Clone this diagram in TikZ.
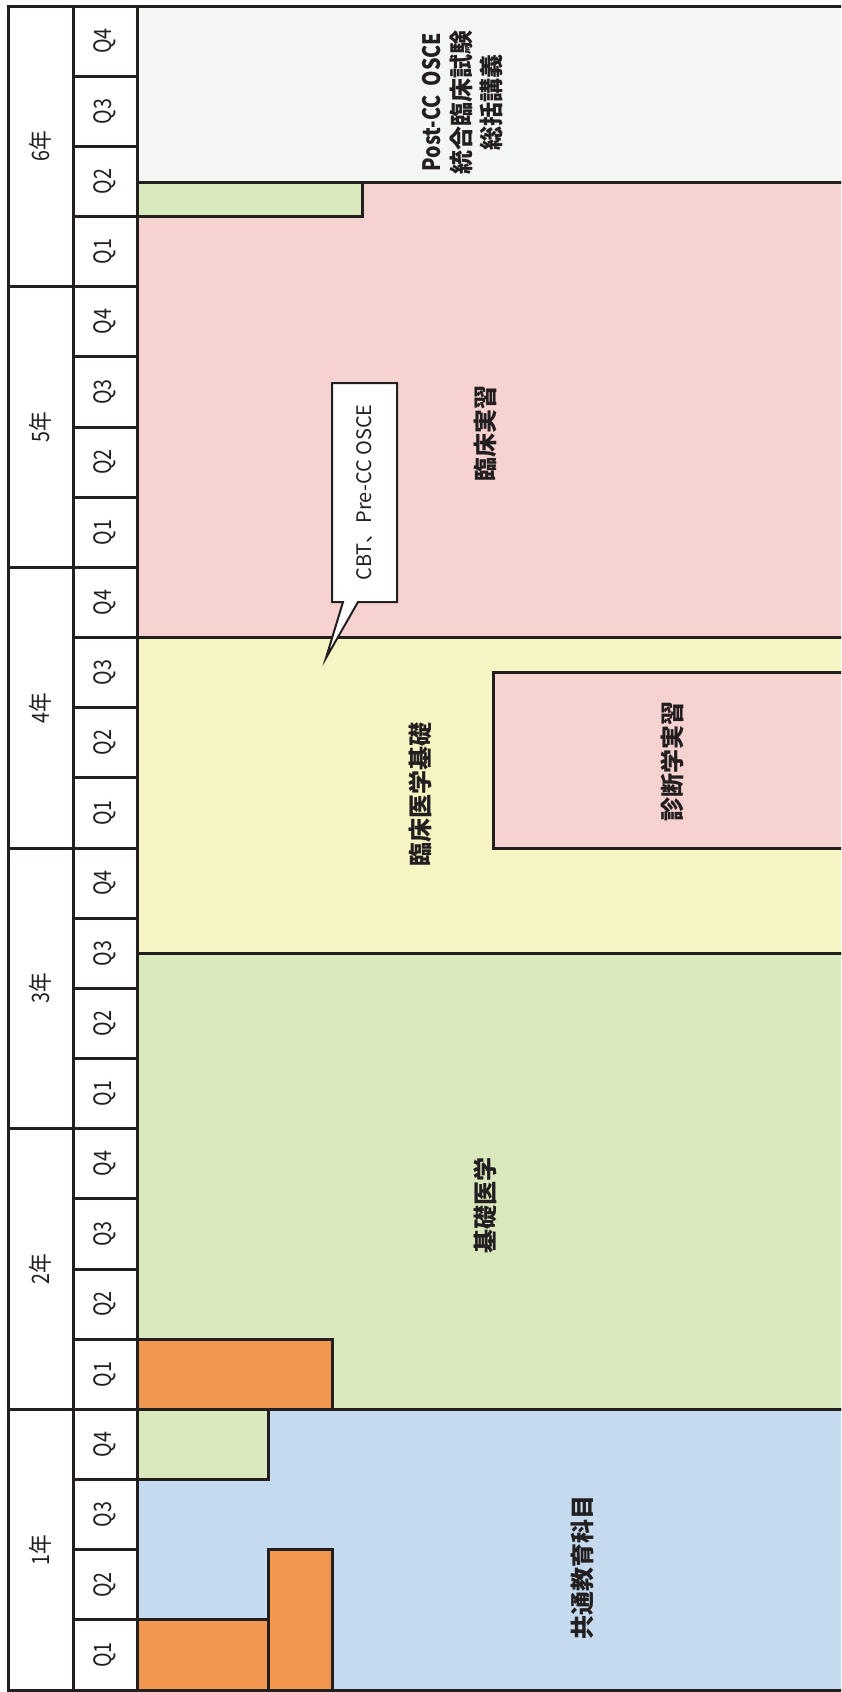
\documentclass[tikz,border=0pt]{standalone}
\usepackage{fontspec}
\setmainfont{Noto Sans CJK JP}
\newfontfamily\narrowfont[FakeStretch=0.82]{Noto Sans CJK JP}
\usetikzlibrary{positioning}
\definecolor{ink}{HTML}{231F20}
\definecolor{postbg}{HTML}{F4F6F3}
\definecolor{basicbg}{HTML}{D9E9BD}
\definecolor{clinbg}{HTML}{F6D2D1}
\definecolor{prebg}{HTML}{F7F5C4}
\definecolor{genbg}{HTML}{C5DAEE}
\definecolor{orangebg}{HTML}{F29750}

\begin{document}
\begin{tikzpicture}[x=0.5pt,y=-0.5pt,
    block/.style={draw=ink, line width=1.5pt},
    yearcell/.style={draw=ink, line width=1.5pt, fill=white, rotate=90, inner sep=0pt, minimum width=140.33pt, minimum height=32.5pt, font=\narrowfont\fontsize{12}{14}\selectfont, text=ink},
    qcell/.style={draw=ink, line width=1.5pt, fill=white, rotate=90, inner sep=0pt, minimum width=35.08pt, minimum height=32pt, font=\narrowfont\fontsize{12}{14}\selectfont, text=ink},
    phase/.style={rotate=90, align=center, font=\fontsize{12}{15}\selectfont\bfseries, text=ink},
    memo/.style={rotate=90, font=\fontsize{10}{12}\selectfont, text=ink},
    callout/.style={draw=ink, line width=1pt, fill=white},
]
\clip (0,0) rectangle (841,1692);

\draw[block, fill=postbg] (137,6) rectangle (860,182);
\draw[block, fill=clinbg] (137,182) rectangle (860,637.5);
\draw[block, fill=basicbg] (137,182) rectangle (362,216.5);
\draw[block, fill=prebg] (137,637.5) rectangle (860,953.3);
\draw[block, fill=clinbg] (493,672.6) rectangle (860,848);
\draw[block, fill=basicbg] (137,953.3) rectangle (860,1409.4);
\draw[block, fill=orangebg] (137,1339.2) rectangle (332,1409.4);
\draw[block, fill=genbg] (137,1409.4) rectangle (860,1690);
\draw[block, fill=basicbg] (137,1409.4) rectangle (268,1479.6);
\draw[block, fill=orangebg] (137,1619.9) rectangle (268,1690);
\draw[block, fill=orangebg] (268,1549.7) rectangle (332,1690);

\foreach \yr in {1,...,6}{
  \pgfmathsetmacro{\yc}{6+(4*(6-\yr)+2)*70.17}
  \node[yearcell] (year\yr) at (40.5,\yc) {\yr 年};
  \foreach \qt in {1,...,4}{
    \pgfmathsetmacro{\qc}{6+(4*(6-\yr)+4-\qt+0.5)*70.17}
    \node[qcell] (q\yr\qt) at (105,\qc) {Q\qt};
  }
}

\draw[callout] (332,383) -- (397,383) -- (397,602) -- (358,602) -- (326,658) -- (343,602) -- (332,602) -- cycle;
\node[memo] (cbt) at (364.5,492.5) {CBT、Pre-CC OSCE};

\node[phase] (post) at (463,102) {{\narrowfont\bfseries Post-CC\ \ OSCE}\\統合臨床試験\\総括講義};
\node[phase] (clinical) at (485,433) {臨床実習};
\node[phase] (preclin) at (420,794) {臨床医学基礎};
\node[phase] (diagnosis) at (672,761) {診断学実習};
\node[phase] (basic) at (485,1205) {基礎医学};
\node[phase] (general) at (582,1567) {共通教育科目};
\end{tikzpicture}
\end{document}
